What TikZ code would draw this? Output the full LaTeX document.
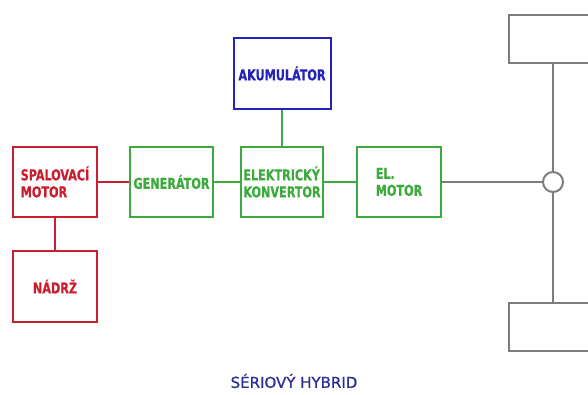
\documentclass[tikz,border=0pt]{standalone}
\usepackage{fontspec}
\newfontfamily\boxfont{DejaVu Sans Condensed Bold}[FakeStretch=0.83, FakeBold=0.5]
\newfontfamily\titlefont{DejaVu Sans}[FakeBold=0.8]
\definecolor{boxred}{RGB}{200,30,45}
\definecolor{boxgreen}{RGB}{60,170,60}
\definecolor{boxblue}{RGB}{35,35,185}
\definecolor{axlegray}{RGB}{125,125,125}
\definecolor{titleblue}{RGB}{45,45,145}
\tikzset{
  unit/.style={draw, line width=2pt, minimum width=84pt, minimum height=70pt,
    align=left, inner sep=2pt, font=\boxfont\fontsize{15}{17}\selectfont},
  redunit/.style={unit, draw=boxred, text=boxred},
  greenunit/.style={unit, draw=boxgreen, text=boxgreen},
  blueunit/.style={unit, draw=boxblue, text=boxblue},
  wheel/.style={draw=axlegray, line width=2pt, rectangle, anchor=north west,
    minimum width=92pt, minimum height=48pt},
  link/.style={line width=2pt},
}
\begin{document}
\begin{tikzpicture}[x=1pt,y=-1pt]
			%%%%% FRAME %%%%%
			\useasboundingbox[fill=white] (0,0) rectangle (588,394);
			
			%%%%% UNITS %%%%%
			\node[redunit] (spal) at (55,182) {SPALOVACÍ\\MOTOR};
			\node[redunit, minimum height=71pt] (nadrz) at (55,286.5) {NÁDRŽ};
			\node[greenunit, minimum width=83pt] (gen) at (171.5,182) {GENERÁTOR};
			\node[greenunit, minimum width=82pt] (konv) at (282,182) {ELEKTRICKÝ\\KONVERTOR};
			\node[blueunit, minimum width=97pt, minimum height=71pt] (akum) at (282,73.5) {AKUMULÁTOR};
			\node[greenunit] (elmot) at (399,182) {EL.\\MOTOR};
			
			%%%%% AXLE %%%%%
			\node[draw=axlegray, line width=2pt, circle, minimum size=20pt, inner sep=0pt] (hub) at (553,182) {};
			\node[wheel] (wtop) at (508,14) {};
			\node[wheel] (wbot) at (508,302) {};
			
			%%%%% LINKS %%%%%
			\draw[boxred, link] (spal) -- (nadrz);
			\draw[boxred, link] (spal) -- (gen);
			\draw[boxgreen, link] (gen) -- (konv);
			\draw[boxgreen, link] (akum) -- (konv);
			\draw[boxgreen, link] (konv) -- (elmot);
			\draw[axlegray, link] (elmot) -- (hub);
			\draw[axlegray, link] (hub) -- (hub |- wtop.south);
			\draw[axlegray, link] (hub) -- (hub |- wbot.north);
			
			%%%%% TITLE %%%%%
			\node[text=titleblue, font=\titlefont\fontsize{15}{17}\selectfont] (title) at (294,381) {SÉRIOVÝ HYBRID};
\end{tikzpicture}
\end{document}
